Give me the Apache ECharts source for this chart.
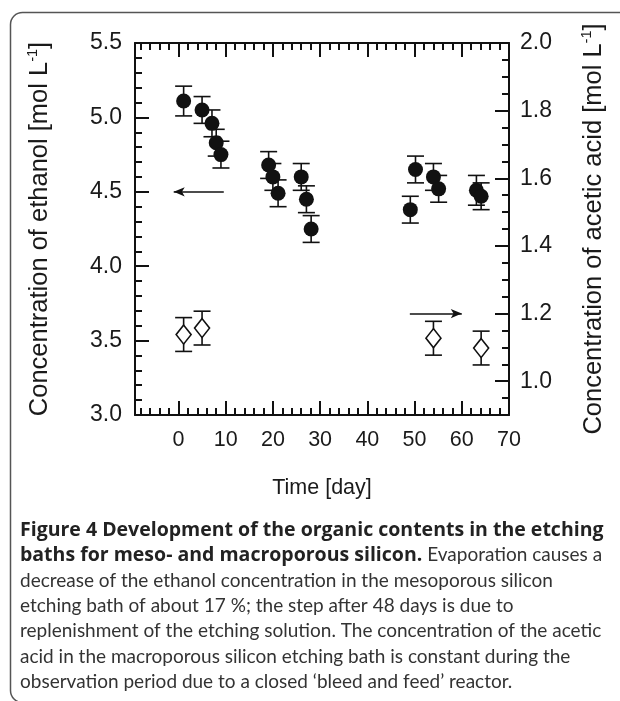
<!DOCTYPE html>
<html><head><meta charset="utf-8">
<script src="https://cdn.jsdelivr.net/npm/echarts@6/dist/echarts.min.js"></script>
<style>html,body{margin:0;padding:0;background:#fff}#c{width:620px;height:701px}</style>
</head><body><div id="c"></div>
<script>
// ---- data ----
const ethanolDays = [1.1, 5.0, 7.1, 8.0, 9.0, 19.1, 20.0, 21.1, 26.0, 27.1, 28.1, 49.1, 50.2, 54.0, 55.1, 63.1, 64.1];
const ethanolConc = [5.11, 5.05, 4.96, 4.83, 4.75, 4.68, 4.60, 4.49, 4.60, 4.45, 4.25, 4.38, 4.65, 4.60, 4.52, 4.51, 4.47];
const ethanolErr  = [0.10, 0.09, 0.09, 0.09, 0.09, 0.09, 0.09, 0.09, 0.09, 0.09, 0.09, 0.09, 0.09, 0.09, 0.09, 0.10, 0.09];
const aceticDays = [1.1, 5.0, 54.0, 64.1];
const aceticConc = [1.138, 1.157, 1.127, 1.098];
const aceticErr  = [0.05, 0.05, 0.05, 0.05];
const xMajorTicks = [0, 10, 20, 30, 40, 50, 60, 70];
const xMinorTicks = [-8, -6, -4, -2, 2, 4, 6, 8, 12, 14, 16, 18, 22, 24, 26, 28, 32, 34, 36, 38, 42, 44, 46, 48, 52, 54, 56, 58, 62, 64, 66, 68];
const rightMajorTicks = [1.0, 1.2, 1.4, 1.6, 1.8, 2.0];
const rightMinorTicks = [0.95, 1.05, 1.1, 1.15, 1.25, 1.3, 1.35, 1.45, 1.5, 1.55, 1.65, 1.7, 1.75, 1.85, 1.9, 1.95];
const leftArrow = [[9.6, 4.5], [-1.0, 4.5]];
const rightArrow = [[49.0, 1.2], [60.0, 1.2]];
const captionLines = [
  ['b', 'Figure 4 Development of the organic contents in the etching'],
  ['m', 'baths for meso- and macroporous silicon.', ' Evaporation causes a'],
  ['n', 'decrease of the ethanol concentration in the mesoporous silicon'],
  ['n', 'etching bath of about 17 %; the step after 48 days is due to'],
  ['n', 'replenishment of the etching solution. The concentration of the acetic'],
  ['n', 'acid in the macroporous silicon etching bath is constant during the'],
  ['n', 'observation period due to a closed \u2018bleed and feed\u2019 reactor.']
];

// ---- chart ----
const FONT = "'Liberation Sans', Arial, sans-serif";
const CAPFONT = "Lato, 'Open Sans', sans-serif";
const BOLDFONT = "'Open Sans', Lato, sans-serif";
const INK = '#1a1a1a';

// fit bold caption font size so the first line spans like the reference
const ctx = document.createElement('canvas').getContext('2d');
ctx.font = "bold 100px " + BOLDFONT;
let boldSize = 100 * 584 / ctx.measureText(captionLines[0][1]).width;
boldSize = Math.max(16, Math.min(22, boldSize));

const chart = echarts.init(document.getElementById('c'), null, {renderer: 'canvas'});

const lineSt = {color: '#111', width: 2};
function baseX(extra) {
  return Object.assign({
    type: 'value', min: -9.2, max: 70, splitLine: {show: false},
    axisLine: {show: true, lineStyle: lineSt, onZero: false}
  }, extra);
}
function errRender(params, api) {
  const x = api.value(0), y = api.value(1), e = api.value(2);
  const top = api.coord([x, y + e]);
  const bot = api.coord([x, y - e]);
  const w = 8.5;
  const st = {stroke: '#111', lineWidth: 1.6};
  return {type: 'group', children: [
    {type: 'line', shape: {x1: top[0], y1: top[1], x2: bot[0], y2: bot[1]}, style: st},
    {type: 'line', shape: {x1: top[0] - w, y1: top[1], x2: top[0] + w, y2: top[1]}, style: st},
    {type: 'line', shape: {x1: bot[0] - w, y1: bot[1], x2: bot[0] + w, y2: bot[1]}, style: st}
  ]};
}
const supRich = {
  n: {fontSize: 25.5, fontFamily: FONT, color: INK, lineHeight: 29},
  s: {fontSize: 14.5, fontFamily: FONT, color: INK, lineHeight: 29, verticalAlign: 'top', padding: [0, 0, 12, 0]}
};

const graphics = [{
  type: 'rect', silent: true, z: -1,
  shape: {x: 10.5, y: 12.5, width: 700, height: 690, r: 12},
  style: {fill: null, stroke: '#555', lineWidth: 1.5}
}];
captionLines.forEach((ln, i) => {
  let text;
  if (ln[0] === 'b') text = '{b|' + ln[1] + '}';
  else if (ln[0] === 'm') text = '{b|' + ln[1] + '}{n|' + ln[2] + '}';
  else text = '{n|' + ln[1] + '}';
  graphics.push({
    type: 'text', silent: true,
    x: 20, y: 530 + i * 25.3,
    style: {
      text: text, verticalAlign: 'middle', align: 'left',
      rich: {
        b: {fontFamily: BOLDFONT, fontWeight: 'bold', fontSize: boldSize, fill: '#222'},
        n: {fontFamily: CAPFONT, fontWeight: 'normal', fontSize: 19, fill: '#333'}
      }
    }
  });
});

const option = {
  animation: false,
  backgroundColor: '#fff',
  grid: {left: 135, right: 111, top: 43, bottom: 286, containLabel: false},
  xAxis: [
    baseX({position: 'bottom',
      name: 'Time [day]', nameLocation: 'middle', nameGap: 62,
      nameTextStyle: {fontSize: 21.5, fontFamily: FONT, color: INK},
      axisTick: {show: true, inside: true, length: 14, lineStyle: lineSt, customValues: xMajorTicks},
      axisLabel: {show: true, customValues: xMajorTicks, fontSize: 21.5, fontFamily: FONT, color: INK, margin: 14}}),
    baseX({position: 'top',
      axisTick: {show: true, inside: true, length: 14, lineStyle: lineSt, customValues: xMajorTicks},
      axisLabel: {show: false}}),
    baseX({position: 'bottom', axisLine: {show: false, onZero: false},
      axisTick: {show: true, inside: true, length: 7, lineStyle: lineSt, customValues: xMinorTicks},
      axisLabel: {show: false}}),
    baseX({position: 'top', axisLine: {show: false, onZero: false},
      axisTick: {show: true, inside: true, length: 7, lineStyle: lineSt, customValues: xMinorTicks},
      axisLabel: {show: false}})
  ],
  yAxis: [
    {type: 'value', position: 'left', min: 3, max: 5.5, interval: 0.5,
      splitLine: {show: false},
      axisLine: {show: true, lineStyle: lineSt, onZero: false},
      axisTick: {show: true, inside: true, length: 14, lineStyle: lineSt},
      minorTick: {show: true, splitNumber: 5, length: 7, lineStyle: lineSt},
      minorSplitLine: {show: false},
      axisLabel: {fontSize: 23, fontFamily: FONT, color: INK, margin: 13, formatter: v => v.toFixed(1)},
      name: '{n|Concentration of ethanol [mol L}{s|-1}{n|]}',
      nameLocation: 'middle', nameGap: 81, nameRotate: 90,
      nameTextStyle: {rich: supRich}},
    {type: 'value', position: 'right', min: 0.9, max: 2.0,
      splitLine: {show: false},
      axisLine: {show: true, lineStyle: lineSt, onZero: false},
      axisTick: {show: true, inside: true, length: 14, lineStyle: lineSt, customValues: rightMajorTicks},
      axisLabel: {customValues: rightMajorTicks, fontSize: 23, fontFamily: FONT, color: INK, margin: 11, formatter: v => v.toFixed(1)},
      name: '{n|Concentration of acetic acid [mol L}{s|-1}{n|]}',
      nameLocation: 'middle', nameGap: 70, nameRotate: 90,
      nameTextStyle: {rich: supRich}},
    {type: 'value', position: 'right', min: 0.9, max: 2.0,
      splitLine: {show: false},
      axisLine: {show: false, onZero: false},
      axisTick: {show: true, inside: true, length: 7, lineStyle: lineSt, customValues: rightMinorTicks},
      axisLabel: {show: false}}
  ],
  graphic: graphics,
  series: [
    {type: 'custom', name: 'ethanol err', xAxisIndex: 0, yAxisIndex: 0, z: 2,
      renderItem: errRender, encode: {x: 0, y: 1},
      data: ethanolDays.map((d, i) => [d, ethanolConc[i], ethanolErr[i]])},
    {type: 'scatter', name: 'ethanol', xAxisIndex: 0, yAxisIndex: 0, z: 3,
      symbol: 'circle', symbolSize: 15,
      itemStyle: {color: '#111', opacity: 1},
      data: ethanolDays.map((d, i) => [d, ethanolConc[i]]),
      markLine: {silent: true, symbol: ['none', 'arrow'], symbolSize: [7, 11],
        label: {show: false}, lineStyle: {color: '#111', width: 1.6, type: 'solid'},
        data: [[{coord: leftArrow[0]}, {coord: leftArrow[1]}]]}},
    {type: 'custom', name: 'acetic err', xAxisIndex: 0, yAxisIndex: 1, z: 2,
      renderItem: errRender, encode: {x: 0, y: 1},
      data: aceticDays.map((d, i) => [d, aceticConc[i], aceticErr[i]])},
    {type: 'scatter', name: 'acetic', xAxisIndex: 0, yAxisIndex: 1, z: 3,
      symbol: 'diamond', symbolSize: [15, 19],
      itemStyle: {color: '#fff', borderColor: '#111', borderWidth: 1.6, opacity: 1},
      data: aceticDays.map((d, i) => [d, aceticConc[i]]),
      markLine: {silent: true, symbol: ['none', 'arrow'], symbolSize: [7, 11],
        label: {show: false}, lineStyle: {color: '#111', width: 1.6, type: 'solid'},
        data: [[{coord: rightArrow[0]}, {coord: rightArrow[1]}]]}}
  ]
};
chart.setOption(option);
</script>
</body></html>
